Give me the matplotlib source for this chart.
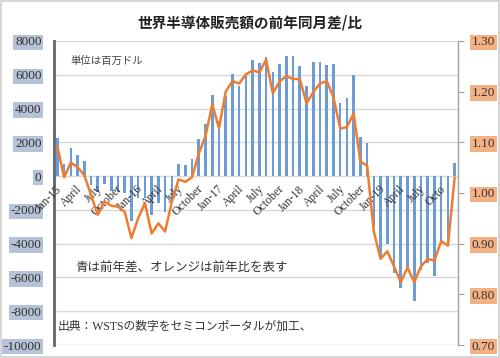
import matplotlib
matplotlib.use("Agg")
import matplotlib.pyplot as plt
from matplotlib.patches import Rectangle
import numpy as np

plt.rcParams['font.family'] = ['Liberation Serif', 'Noto Sans CJK JP', 'DejaVu Sans']
plt.rcParams['axes.unicode_minus'] = False

# months Jan-15 .. Dec-19
month_labels = ['Jan-15', 'April', 'July', 'October',
                'Jan-16', 'April', 'July', 'October',
                'Jan-17', 'April', 'July', 'October',
                'Jan-18', 'April', 'July', 'October',
                'Jan-19', 'April', 'July', 'Octo']

# year-on-year difference (million USD)
diff = [2230, 710, 1650, 1240, 900, -520, -930, -440, -860, -950, -1010, -2650,
        -1320, -1300, -2330, -1610, -2150, -1440, 720, 630, 1020, 2210, 3080, 4820,
        3280, 4760, 6060, 5350, 5900, 6880, 6700, 7060, 6180, 6610, 7100, 7100,
        6530, 5350, 6730, 6770, 6570, 6610, 4300, 4600, 5980, 2340, 1950, -2980,
        -4820, -4010, -5750, -6640, -5500, -7390, -5550, -5160, -5940, -4020, -3870, 800]

# year-on-year ratio
ratio = [1.092, 1.031, 1.060, 1.051, 1.035, 0.996, 0.957, 0.983, 0.975, 0.973, 0.963, 0.911,
         0.950, 0.980, 0.920, 0.940, 0.924, 0.983, 1.027, 1.022, 1.031, 1.078, 1.112, 1.175,
         1.128, 1.200, 1.221, 1.216, 1.234, 1.242, 1.238, 1.263, 1.197, 1.220, 1.231, 1.225,
         1.225, 1.177, 1.199, 1.216, 1.221, 1.189, 1.127, 1.130, 1.157, 1.062, 1.054, 0.924,
         0.870, 0.885, 0.855, 0.824, 0.853, 0.824, 0.855, 0.870, 0.866, 0.905, 0.896, 1.030]

x = np.arange(len(diff))

fig = plt.figure(figsize=(5.0, 3.58), dpi=100)
fig.patches.append(Rectangle((0.002, 0.003), 0.995, 0.994, transform=fig.transFigure,
                             fill=False, edgecolor='#d0d0d0', linewidth=1.2))
ax = fig.add_axes([0.108, 0.0363, 0.808, 0.8492])
ax2 = ax.twinx()

ax.bar(x, diff, width=0.38, color='#6d9bd6', zorder=2)
ax.set_xlim(-0.5, len(diff) - 0.5)
ax.set_ylim(-10000, 8000)
ax.set_yticks(np.arange(-10000, 8001, 2000))
ax.grid(axis='y', color='#d9d9d9', linewidth=1, zorder=0)
ax.set_axisbelow(True)
ax.set_xticks([])
ax.tick_params(axis='y', length=0, pad=9, labelsize=9.5, colors='#333333')
for lab in ax.get_yticklabels():
    lab.set_bbox(dict(facecolor='#b6c2d6', edgecolor='none', pad=1.2))

for s in ['top', 'bottom', 'right']:
    ax.spines[s].set_visible(False)
ax.spines['left'].set_color('#5f6672')
ax.spines['left'].set_linewidth(2)

ax2.plot(x, ratio, color='#ed7d31', linewidth=1.8, zorder=3)
ax2.set_ylim(0.7, 1.3)
ax2.set_yticks(np.arange(0.7, 1.301, 0.1))
ax2.set_yticklabels(['%.2f' % v for v in np.arange(0.7, 1.301, 0.1)])
ax2.tick_params(axis='y', length=4, color='#a0a0a0', pad=6, labelsize=9.5, colors='#333333')
ax2.tick_params(axis='y', color='#a0a0a0')
for lab in ax2.get_yticklabels():
    lab.set_bbox(dict(facecolor='#f4b183', edgecolor='none', pad=1.2))
for s in ['top', 'bottom', 'left']:
    ax2.spines[s].set_visible(False)
ax2.spines['right'].set_color('#a0a0a0')
ax2.spines['right'].set_linewidth(1)

for k, lab in enumerate(month_labels):
    ax.annotate(lab, xy=(k * 3, 0), xycoords='data', xytext=(2, -8),
                textcoords='offset points', rotation=45, ha='right', va='center',
                rotation_mode='anchor', fontsize=8.5, color='#333333',
                annotation_clip=False, zorder=4)

ax.text(0.04, 0.935, '単位は百万ドル', transform=ax.transAxes, fontsize=7.5,
        color='#444444', va='center')
ax.text(0.052, 0.25, '青は前年差、オレンジは前年比を表す', transform=ax.transAxes,
        fontsize=9, color='#333333', va='center')
ax.text(0.008, 0.06, '出典：WSTSの数字をセミコンポータルが加工、', transform=ax.transAxes,
        fontsize=8.5, color='#333333', va='center')

fig.text(0.5, 1 - 22 / 358, '世界半導体販売額の前年同月差/比', ha='center', va='center',
         fontsize=10.5, fontweight='bold', color='#222222',
         family=['Noto Sans CJK JP', 'DejaVu Sans'])

fig.savefig('out.png', dpi=100)
